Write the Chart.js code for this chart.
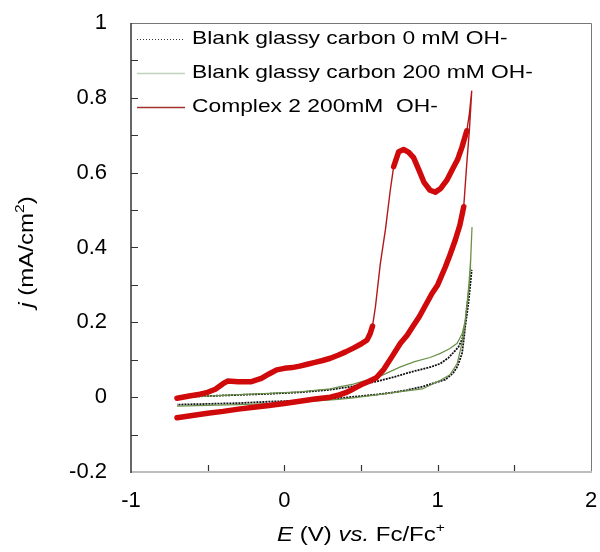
<!DOCTYPE html>
<html>
<head>
<meta charset="utf-8">
<script src="https://cdn.jsdelivr.net/npm/chart.js@4.4.1/dist/chart.umd.min.js"></script>
<style>
  body { margin: 0; background: #fff; }
  canvas { display: block; }
</style>
</head>
<body>
<canvas id="grafico" width="600" height="552"></canvas>
<script>
// Nomes das séries (legenda)
const seriesNames = ['Blank glassy carbon 0 mM OH-', 'Blank glassy carbon 200 mM OH-', 'Complex 2 200mM  OH-'];

// Ticks dos eixos
const xTicks = [-1, 0, 1, 2];
const yTicks = [-0.2, 0, 0.2, 0.4, 0.6, 0.8, 1];
const xMinorTicks = [-0.5, 0, 0.5, 1, 1.5];
const yMinorTicks = [-0.1, 0, 0.1, 0.2, 0.3, 0.4, 0.5, 0.6, 0.7, 0.8, 0.9];

// Branco 0 mM: ida e volta
const blank0E = [-0.70, -0.50, -0.30, -0.10, 0.10, 0.30, 0.40, 0.50, 0.60, 0.70, 0.757, 0.85, 0.95, 1.018, 1.07, 1.10, 1.135, 1.16, 1.18, 1.20, 1.215, 1.222,
                 1.21, 1.19, 1.175, 1.159, 1.13, 1.10, 1.05, 0.97, 0.90, 0.80, 0.70, 0.60, 0.50, 0.35, 0.10, -0.10, -0.30, -0.50, -0.70];
const blank0J = [0.000, 0.003, 0.006, 0.009, 0.013, 0.020, 0.026, 0.033, 0.042, 0.052, 0.059, 0.070, 0.080, 0.090, 0.105, 0.118, 0.134, 0.155, 0.190, 0.250, 0.310, 0.340,
                 0.300, 0.240, 0.170, 0.117, 0.083, 0.064, 0.047, 0.037, 0.028, 0.019, 0.012, 0.007, 0.003, -0.003, -0.009, -0.012, -0.016, -0.018, -0.020];

// Branco 200 mM: ida e volta
const blank200E = [-0.70, -0.50, -0.30, -0.10, 0.10, 0.30, 0.35, 0.45, 0.55, 0.64, 0.757, 0.85, 0.95, 1.018, 1.08, 1.127, 1.16, 1.18, 1.20, 1.213, 1.224,
                   1.215, 1.205, 1.19, 1.166, 1.145, 1.127, 1.08, 1.018, 0.90, 0.757, 0.60, 0.45, 0.35, 0.10, -0.10, -0.30, -0.50, -0.70];
const blank200J = [0.000, 0.003, 0.007, 0.010, 0.014, 0.022, 0.027, 0.035, 0.047, 0.059, 0.081, 0.095, 0.106, 0.117, 0.130, 0.144, 0.170, 0.206, 0.270, 0.340, 0.455,
                   0.370, 0.310, 0.240, 0.161, 0.120, 0.090, 0.060, 0.045, 0.022, 0.015, 0.006, -0.002, -0.006, -0.013, -0.017, -0.020, -0.022, -0.024];

// Complexo 2 200 mM: ida e volta
const complexE = [-0.70, -0.62, -0.55, -0.50, -0.45, -0.40, -0.37, -0.30, -0.22, -0.15, -0.10, -0.05, 0.00, 0.05, 0.10, 0.15, 0.20, 0.25, 0.30, 0.35, 0.40, 0.45, 0.50, 0.54,
                  0.56, 0.575, 0.594, 0.626, 0.659, 0.691, 0.713, 0.746, 0.778, 0.81, 0.843, 0.88, 0.91, 0.95, 0.985, 1.02, 1.06, 1.094, 1.13, 1.159, 1.19, 1.207, 1.222,
                  1.207, 1.19, 1.17, 1.145, 1.115, 1.08, 1.05, 1.00, 0.963, 0.92, 0.88, 0.84, 0.80, 0.757, 0.70, 0.65, 0.60, 0.55, 0.50, 0.45, 0.40, 0.35, 0.30, 0.20, 0.10, 0.00, -0.10, -0.20, -0.30, -0.40, -0.50, -0.60, -0.70];
const complexJ = [-0.003, 0.003, 0.008, 0.013, 0.021, 0.036, 0.043, 0.041, 0.041, 0.050, 0.062, 0.073, 0.077, 0.079, 0.083, 0.088, 0.093, 0.098, 0.104, 0.112, 0.121, 0.131, 0.142, 0.153,
                  0.170, 0.190, 0.241, 0.357, 0.447, 0.553, 0.616, 0.656, 0.662, 0.655, 0.640, 0.605, 0.575, 0.553, 0.548, 0.558, 0.580, 0.607, 0.635, 0.669, 0.712, 0.758, 0.818,
                  0.714, 0.625, 0.509, 0.460, 0.420, 0.380, 0.348, 0.300, 0.277, 0.245, 0.215, 0.190, 0.165, 0.144, 0.107, 0.075, 0.052, 0.042, 0.033, 0.022, 0.012, 0.005, 0.000, -0.005, -0.011, -0.017, -0.022, -0.027, -0.032, -0.038, -0.043, -0.049, -0.055];

const FONT = "'Liberation Sans', Arial, sans-serif";
const ESTICA = 1.2; // o texto do original é mais largo

function toPoints(xs, ys) {
    return xs.map((x, i) => ({ x: x, y: ys[i] }));
}

// Trechos íngremes ficam finos, como no original
function ingreme(c) {
    return Math.abs(c.p1.y - c.p0.y) > 6 * Math.abs(c.p1.x - c.p0.x);
}

// Estilos da legenda
const legendStyles = [
    { color: '#333', width: 1, dash: [1, 2] },
    { color: '#c3d2bb', width: 1.5, dash: [] },
    { color: '#a53030', width: 1.3, dash: [] }
];

// escreve partes de texto com fontes diferentes, esticadas na horizontal
function textoMisto(ctx, partes, cx, cy) {
    let total = 0;
    partes.forEach(p => { ctx.font = p.f; p.w = ctx.measureText(p.t).width; total += p.w; });
    ctx.save();
    ctx.translate(cx, cy);
    ctx.scale(ESTICA, 1);
    let x = -total / 2;
    ctx.textAlign = 'left';
    partes.forEach(p => {
        ctx.font = p.f;
        ctx.fillText(p.t, x, p.sup ? -7 : 0);
        x += p.w;
    });
    ctx.restore();
}

const moldura = {
    id: 'moldura',
    beforeDatasetsDraw(chart) {
        const ctx = chart.ctx;
        const a = chart.chartArea;
        const xs = chart.scales.x, ys = chart.scales.y;
        ctx.save();
        // topo e direita
        ctx.strokeStyle = '#777';
        ctx.lineWidth = 1;
        ctx.beginPath();
        ctx.moveTo(a.left, a.top + 0.5);
        ctx.lineTo(a.right + 0.5, a.top + 0.5);
        ctx.lineTo(a.right + 0.5, a.bottom);
        ctx.stroke();
        // base
        ctx.strokeStyle = '#bdbdbd';
        ctx.lineWidth = 2;
        ctx.beginPath();
        ctx.moveTo(a.left, a.bottom);
        ctx.lineTo(a.right + 1, a.bottom);
        ctx.stroke();
        // esquerda
        ctx.strokeStyle = '#333';
        ctx.lineWidth = 1.5;
        ctx.beginPath();
        ctx.moveTo(a.left, a.top);
        ctx.lineTo(a.left, a.bottom + 1);
        ctx.stroke();
        // ticks internos
        ctx.strokeStyle = '#333';
        ctx.lineWidth = 1.2;
        ctx.beginPath();
        yMinorTicks.forEach(v => {
            const py = Math.round(ys.getPixelForValue(v)) + 0.5;
            ctx.moveTo(a.left, py);
            ctx.lineTo(a.left + 7, py);
        });
        xMinorTicks.forEach(v => {
            const px = Math.round(xs.getPixelForValue(v)) + 0.5;
            ctx.moveTo(px, a.bottom - 1);
            ctx.lineTo(px, a.bottom - 7);
        });
        ctx.stroke();
        ctx.restore();
    },
    afterDraw(chart) {
        const ctx = chart.ctx;
        const a = chart.chartArea;
        ctx.save();
        ctx.fillStyle = '#000';
        ctx.textBaseline = 'middle';

        // Legenda
        seriesNames.forEach((nome, i) => {
            const y = a.top + 16 + i * 34;
            const s = legendStyles[i];
            ctx.strokeStyle = s.color;
            ctx.lineWidth = s.width;
            ctx.setLineDash(s.dash);
            ctx.beginPath();
            ctx.moveTo(a.left + 6, y + 0.5);
            ctx.lineTo(a.left + 54, y + 0.5);
            ctx.stroke();
            ctx.setLineDash([]);
            ctx.save();
            ctx.translate(a.left + 61, y);
            ctx.scale(ESTICA, 1);
            ctx.font = '19px ' + FONT;
            ctx.textAlign = 'left';
            ctx.fillText(nome, 0, 0);
            ctx.restore();
        });

        // Título do eixo X: E (V) vs. Fc/Fc+
        textoMisto(ctx, [
            { t: 'E', f: 'italic 20px ' + FONT },
            { t: ' (V) ', f: '20px ' + FONT },
            { t: 'vs.', f: 'italic 20px ' + FONT },
            { t: ' Fc/Fc', f: '20px ' + FONT },
            { t: '+', f: '13px ' + FONT, sup: true }
        ], (a.left + a.right) / 2, 535);

        // Título do eixo Y: j (mA/cm²)
        ctx.save();
        ctx.translate(27, 252);
        ctx.rotate(-Math.PI / 2);
        textoMisto(ctx, [
            { t: 'j', f: 'italic 20px ' + FONT },
            { t: ' (mA/cm', f: '20px ' + FONT },
            { t: '2', f: '13px ' + FONT, sup: true },
            { t: ')', f: '20px ' + FONT }
        ], 0, 0);
        ctx.restore();
        ctx.restore();
    }
};

function criarGrafico() {
    const ctx = document.getElementById('grafico').getContext('2d');
    new Chart(ctx, {
        type: 'scatter',
        data: {
            datasets: [
                {
                    label: seriesNames[0],
                    data: toPoints(blank0E, blank0J),
                    showLine: true,
                    borderColor: '#111',
                    borderWidth: 1.8,
                    borderDash: [2, 1],
                    pointRadius: 0,
                    order: 2
                },
                {
                    label: seriesNames[1],
                    data: toPoints(blank200E, blank200J),
                    showLine: true,
                    borderColor: '#6a8f4a',
                    borderWidth: 1.2,
                    pointRadius: 0,
                    order: 1
                },
                {
                    label: seriesNames[2],
                    data: toPoints(complexE, complexJ),
                    showLine: true,
                    borderColor: '#d00a0a',
                    borderWidth: 5.5,
                    borderCapStyle: 'round',
                    borderJoinStyle: 'round',
                    pointRadius: 0,
                    order: 0,
                    segment: {
                        borderWidth: c => ingreme(c) ? 1.4 : 5.5,
                        borderColor: c => ingreme(c) ? '#b41818' : '#d00a0a'
                    }
                }
            ]
        },
        options: {
            responsive: false,
            animation: false,
            layout: { padding: { top: 23, right: 9, left: 0, bottom: 0 } },
            plugins: {
                legend: { display: false },
                tooltip: { enabled: false }
            },
            scales: {
                x: {
                    type: 'linear',
                    min: -1,
                    max: 2,
                    afterBuildTicks: s => { s.ticks = xTicks.map(v => ({ value: v })); },
                    afterFit: s => { s.height = 80; s.paddingLeft = 0; s.paddingRight = 0; },
                    grid: { display: false, drawTicks: false },
                    border: { display: false },
                    ticks: {
                        padding: 16,
                        color: '#000',
                        font: { family: FONT, size: 22 },
                        maxRotation: 0,
                        callback: v => String(v)
                    }
                },
                y: {
                    type: 'linear',
                    min: -0.2,
                    max: 1,
                    afterBuildTicks: s => { s.ticks = yTicks.map(v => ({ value: v })); },
                    afterFit: s => { s.width = 131; s.paddingTop = 0; s.paddingBottom = 0; },
                    grid: { display: false, drawTicks: false },
                    border: { display: false },
                    ticks: {
                        padding: 24,
                        color: '#000',
                        font: { family: FONT, size: 22 },
                        callback: v => String(Math.round(v * 10) / 10)
                    }
                }
            }
        },
        plugins: [moldura]
    });
}

criarGrafico();
</script>
</body>
</html>
